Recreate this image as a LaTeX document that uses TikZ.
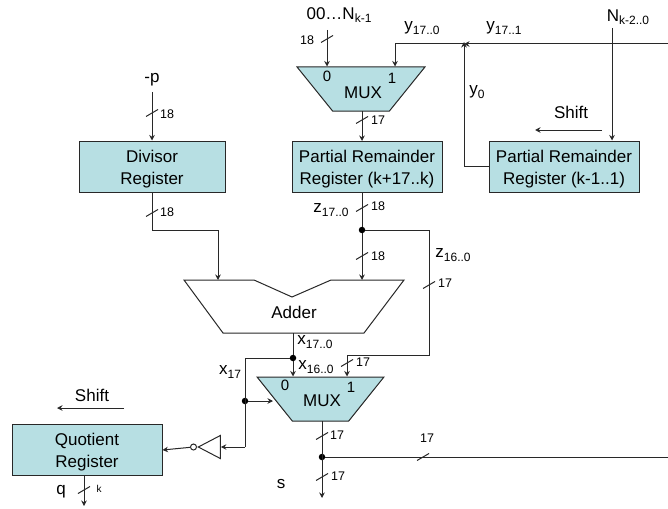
\documentclass[tikz,border=0pt]{standalone}
\usepackage{fontspec}
\setmainfont{Liberation Sans}
\usetikzlibrary{arrows.meta,shapes.geometric}
\definecolor{regfill}{RGB}{183,223,227}
\definecolor{wirecol}{RGB}{40,40,40}
\newcommand{\subs}[1]{\raisebox{-3.5pt}{\fontsize{12}{12}\selectfont #1}}
\newcommand{\regtext}[2]{\raisebox{-2.5pt}[\height][\depth]{#1}\\\raisebox{-2.5pt}[\height][\depth]{#2}}
\newcommand{\busmark}[2]{\coordinate (#1) at #2; \draw[wire] (#1) ++(-6,3.5) -- ++(12,-7);}
\newcommand{\buslabel}[3]{\node[lab,font=\fontsize{12.5}{14}\selectfont] (#1) at #2 {#3};}
\tikzset{
	wire/.style={draw=wirecol,line width=1pt},
	arrowwire/.style={wire,-{Stealth[length=5.5pt,width=5.5pt]}},
	regbox/.style={draw=wirecol,line width=1pt,fill=regfill,align=center,inner sep=0pt,minimum width=150pt,minimum height=51pt,font=\fontsize{17}{22}\selectfont},
	muxbox/.style={draw=wirecol,line width=1pt,fill=regfill,trapezium,shape border rotate=180,trapezium left angle=54,trapezium right angle=54,trapezium stretches=true,inner sep=1pt,minimum width=128pt,minimum height=44pt},
	lab/.style={inner sep=0pt,font=\fontsize{17}{20}\selectfont},
	dot/.style={circle,fill=black,inner sep=0pt,minimum size=6.5pt},
}
\begin{document}
\begin{tikzpicture}[x=1pt,y=-1pt]
	\useasboundingbox (0,0) rectangle (668,508);
	% registers and muxes
	\node[regbox] (remhi) at (367,166.5) {\regtext{Partial Remainder}{Register (k+17..k)}};
	\node[regbox] (remlo) at (564,166.5) {\regtext{Partial Remainder}{Register (k-1..1)}};
	\node[regbox,minimum width=146pt] (divreg) at (152,166.5) {\regtext{Divisor}{Register}};
	\node[regbox] (quotreg) at (87,450) {\regtext{Quotient}{Register}};
	\node[muxbox] (muxtop) at (361,89) {\phantom{M}};
	\node[muxbox,minimum width=127pt] (muxbot) at (320.5,399) {\phantom{M}};
	% adder
	\draw[wire] (184,280) coordinate (addtl) -- (254,280) -- (292,297) -- (331,280) -- (404,280) coordinate (addtr) -- (364,333) -- (223,333) coordinate (addbl) -- cycle;
	\node[lab] (addertxt) at (294,312) {Adder};
	\coordinate (addera) at (218,280);
	\coordinate (adderb) at (362,280);
	\coordinate (adderout) at (293,333);
	% inverter
	\node[draw=wirecol,line width=1pt,isosceles triangle,isosceles triangle stretches=true,shape border rotate=180,inner sep=0pt,minimum height=22pt,minimum width=23pt,anchor=apex] (inv) at (197,447) {};
	\node[draw=wirecol,line width=1pt,fill=white,circle,inner sep=0pt,minimum size=6pt] (bubble) at (193.5,447) {};
	% free ends and junctions
	\coordinate (topin) at (327,30);
	\coordinate (negp) at (152,92);
	\coordinate (yright) at (668,44);
	\coordinate (yjoin) at (464,44);
	\coordinate (ymux) at (395,44);
	\coordinate (nin) at (612,28);
	\node[dot] (zjoin) at (362,230) {};
	\node[dot] (xjoin) at (293,358) {};
	\node[dot] (signjoin) at (245,401) {};
	\node[dot] (sjoin) at (322,457) {};
	\coordinate (zright) at (429,230);
	\coordinate (zlow) at (429,355);
	\coordinate (zmux) at (347,355);
	\coordinate (xleft) at (245,358);
	\coordinate (invin) at (245,447);
	\coordinate (muxside) at (273,401);
	\coordinate (sout) at (322,498);
	\coordinate (sright) at (668,457);
	\coordinate (qout) at (84,506);
	\coordinate (shifta) at (602,130);
	\coordinate (shiftb) at (535,130);
	\coordinate (shiftc) at (124,408);
	\coordinate (shiftd) at (57,408);
	% connectors
	\draw[arrowwire] (topin) -- (topin |- muxtop.north);
	\draw[arrowwire] (362,111) -- (362,141);
	\draw[arrowwire] (yright) -- (yjoin);
	\draw[arrowwire] (yjoin) -- (ymux) -- (ymux |- muxtop.north);
	\draw[arrowwire] (remlo.west) -- (remlo.west -| yjoin) -- ([yshift=2pt]yjoin);
	\draw[arrowwire] (nin) -- (nin |- remlo.north);
	\draw[arrowwire] (shifta) -- (shiftb);
	\draw[arrowwire] (shiftc) -- (shiftd);
	\draw[arrowwire] (negp) -- (negp |- divreg.north);
	\draw[arrowwire] (divreg.south) -- (divreg.south |- zjoin) -- (addera |- zjoin) -- (addera);
	\draw[wire] (362,192) -- (zjoin);
	\draw[arrowwire] (zjoin) -- (adderb);
	\draw[arrowwire] (zjoin) -- (zright) -- (zlow) -- (zmux) -- (zmux |- muxbot.north);
	\draw[wire] (adderout) -- (xjoin);
	\draw[arrowwire] (xjoin) -- (xjoin |- muxbot.north);
	\draw[wire] (xjoin) -- (xleft) -- (invin);
	\draw[arrowwire] (signjoin) -- (muxside);
	\draw[arrowwire] (invin) -- (inv.lower side);
	\draw[arrowwire] (bubble) -- (quotreg.east);
	\draw[arrowwire] (322,421) -- (sout);
	\draw[wire] (sjoin) -- (sright);
	\draw[arrowwire] (84,475) -- (qout);
	% bus marks
	\busmark{bm1}{(327,39)}
	\busmark{bm2}{(362,120)}
	\busmark{bm3}{(152,113)}
	\busmark{bm4}{(152,213)}
	\busmark{bm5}{(362,208)}
	\busmark{bm6}{(362,256)}
	\busmark{bm7}{(429,285)}
	\busmark{bm8}{(347,363)}
	\busmark{bm9}{(322,436)}
	\busmark{bm10}{(322,477)}
	\busmark{bm11}{(423,457)}
	\busmark{bm12}{(84,490)}
	% labels
	\node[lab] (ltop) at (339,15) {00…N\subs{k-1}};
	\node[lab] (lyb) at (422,28) {y\subs{17..0}};
	\node[lab] (lya) at (504,28) {y\subs{17..1}};
	\node[lab] (ln) at (628,17) {N\subs{k-2..0}};
	\node[lab] (lyz) at (477,92) {y\subs{0}};
	\node[lab] (lshifta) at (571,112) {Shift};
	\node[lab] (lshiftb) at (92,395) {Shift};
	\node[lab] (lp) at (152,80) {-p};
	\node[lab] (lmuxa) at (363,93) {MUX};
	\node[lab] (lmuxb) at (322,401) {MUX};
	\node[lab,font=\fontsize{15}{17}\selectfont] (lma) at (327,76) {0};
	\node[lab,font=\fontsize{15}{17}\selectfont] (lmb) at (392,78) {1};
	\node[lab,font=\fontsize{15}{17}\selectfont] (lmc) at (285,385) {0};
	\node[lab,font=\fontsize{15}{17}\selectfont] (lmd) at (351,387) {1};
	\node[lab] (lz) at (331,210) {z\subs{17..0}};
	\node[lab] (lzs) at (453,255) {z\subs{16..0}};
	\node[lab] (lx) at (315,342) {x\subs{17..0}};
	\node[lab] (lxs) at (316,367) {x\subs{16..0}};
	\node[lab] (lxt) at (230,372) {x\subs{17}};
	\node[lab] (lq) at (61,492) {q};
	\node[lab] (ls) at (281,484) {s};
	\buslabel{w1}{(307,40)}{18}
	\buslabel{w2}{(378,120)}{17}
	\buslabel{w3}{(167,114)}{18}
	\buslabel{w4}{(167,212)}{18}
	\buslabel{w5}{(378,206)}{18}
	\buslabel{w6}{(378,256)}{18}
	\buslabel{w7}{(445,283)}{17}
	\buslabel{w8}{(363,362)}{17}
	\buslabel{w9}{(337,435)}{17}
	\buslabel{w10}{(338,476)}{17}
	\buslabel{w11}{(427,438)}{17}
	\node[lab,font=\fontsize{10}{12}\selectfont] (w12) at (99,489) {k};
\end{tikzpicture}
\end{document}
